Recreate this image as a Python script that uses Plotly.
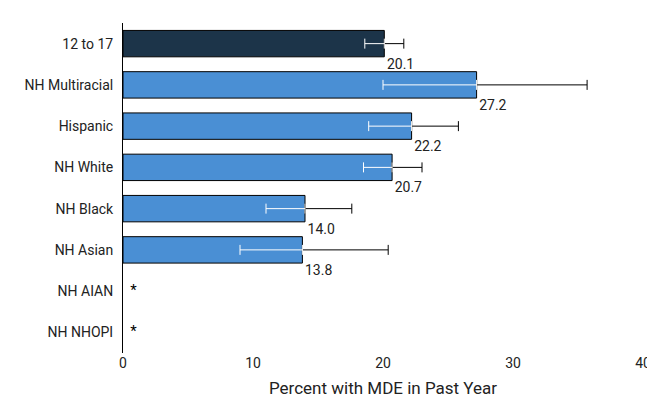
import plotly.graph_objects as go

# data
groups = ["12 to 17", "NH Multiracial", "Hispanic", "NH White", "NH Black",
          "NH Asian", "NH AIAN", "NH NHOPI"]
values = [20.1, 27.2, 22.2, 20.7, 14.0, 13.8, None, None]
lower = [18.6, 20.0, 18.9, 18.5, 11.0, 9.0, None, None]
upper = [21.6, 35.7, 25.8, 23.0, 17.6, 20.4, None, None]
suppressed = ["NH AIAN", "NH NHOPI"]

font = "Liberation Sans Narrow, Arial Narrow, Roboto, sans-serif"
ypos = list(range(len(groups)))[::-1]
colors = ["#1c3449"] + ["#4a8fd4"] * (len(groups) - 1)

shown = [i for i, v in enumerate(values) if v is not None]
xs = [values[i] for i in shown]
ys = [ypos[i] for i in shown]

fig = go.Figure()
fig.add_trace(go.Bar(
    x=xs, y=ys, orientation="h", width=0.64,
    marker=dict(color=[colors[i] for i in shown], line=dict(color="black", width=1)),
    hoverinfo="skip"))

# upper part of CI in black, lower part in white
fig.add_trace(go.Scatter(
    x=xs, y=ys, mode="markers", marker=dict(size=1, color="rgba(0,0,0,0)"),
    error_x=dict(type="data", symmetric=False,
                 array=[upper[i] - values[i] for i in shown],
                 arrayminus=[0] * len(shown), color="black", thickness=1, width=5)))
fig.add_trace(go.Scatter(
    x=xs, y=ys, mode="markers", marker=dict(size=1, color="rgba(0,0,0,0)"),
    error_x=dict(type="data", symmetric=False,
                 array=[0] * len(shown),
                 arrayminus=[values[i] - lower[i] for i in shown],
                 color="white", thickness=1, width=5)))

# value labels below right of bar ends
fig.add_trace(go.Scatter(
    x=[v + 0.2 for v in xs], y=[y - 0.52 for y in ys], mode="text",
    text=[f"{v:.1f}" for v in xs], textposition="middle right",
    textfont=dict(family=font, size=14, color="#222")))

# suppressed estimates
fig.add_trace(go.Scatter(
    x=[0.8] * len(suppressed), y=[ypos[groups.index(g)] for g in suppressed],
    mode="text", text=["*"] * len(suppressed),
    textfont=dict(family=font, size=15, color="black")))

fig.update_layout(
    width=655, height=410, showlegend=False,
    plot_bgcolor="white", paper_bgcolor="white",
    margin=dict(l=115, r=20, t=15, b=65),
    font=dict(family=font, size=14, color="#222"),
    xaxis=dict(range=[0, 40], tickvals=[0, 10, 20, 30, 40], showgrid=False,
               zeroline=False, showline=False, ticks="", automargin=False,
               title=dict(text="Percent with MDE in Past Year", standoff=12)),
    yaxis=dict(range=[-0.5, len(groups) - 0.5], tickvals=ypos, ticktext=groups,
               showgrid=False, zeroline=False, showline=True, linecolor="black",
               ticks="outside", ticklen=6, tickcolor="white", automargin=False),
)

fig.write_html("out.html")
